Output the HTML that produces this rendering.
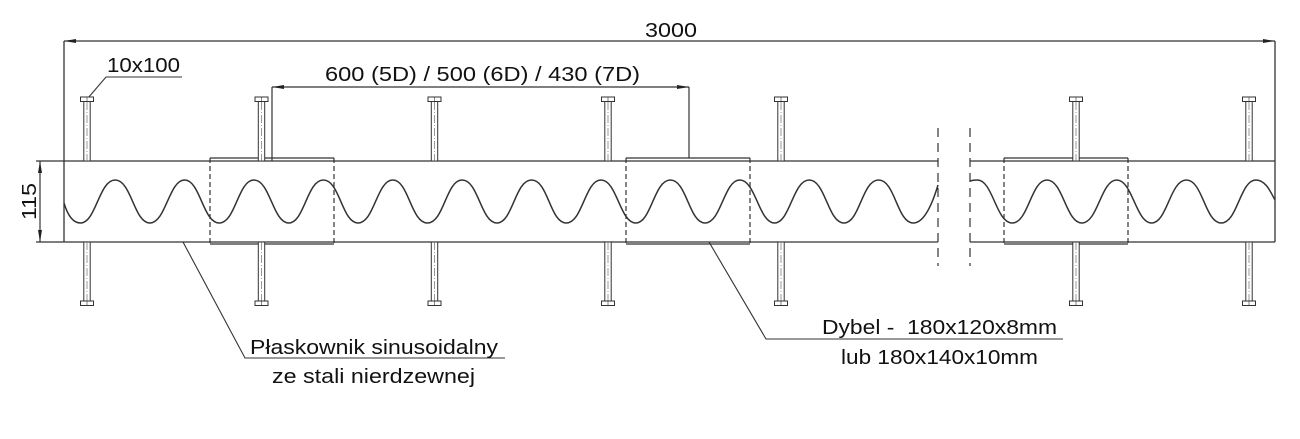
<!DOCTYPE html>
<html><head><meta charset="utf-8"><style>
html,body{margin:0;padding:0;background:#fff;}
svg{display:block;}
text{font-family:"Liberation Sans",sans-serif;fill:#111;}
</style></head><body>
<svg width="1300" height="439" viewBox="0 0 1300 439" xmlns="http://www.w3.org/2000/svg">
<defs>
<g id="bt">
  <rect x="-6.5" y="97" width="13" height="4.5" fill="#fff" stroke="#333" stroke-width="1"/>
  <line x1="0" y1="97" x2="0" y2="101.5" stroke="#333" stroke-width="0.6"/>
  <rect x="-3.2" y="101.5" width="6.4" height="59.5" fill="#fff" stroke="#333" stroke-width="1"/>
  <line x1="0" y1="102" x2="0" y2="161" stroke="#555" stroke-width="0.6" stroke-dasharray="8,2,1,2"/>
</g>
<g id="bb">
  <rect x="-3.2" y="242" width="6.4" height="59" fill="#fff" stroke="#333" stroke-width="1"/>
  <line x1="0" y1="242" x2="0" y2="301" stroke="#555" stroke-width="0.6" stroke-dasharray="8,2,1,2"/>
  <rect x="-6.5" y="301" width="13" height="4.5" fill="#fff" stroke="#333" stroke-width="1"/>
  <line x1="0" y1="301" x2="0" y2="305.5" stroke="#333" stroke-width="0.6"/>
</g>
</defs>
<g stroke="#333" stroke-width="1.3" fill="none">
<line x1="64" y1="161" x2="938" y2="161"/>
<line x1="64" y1="242" x2="938" y2="242"/>
<line x1="970" y1="161" x2="1275" y2="161"/>
<line x1="970" y1="242" x2="1275" y2="242"/>
<line x1="64" y1="41" x2="64" y2="242"/>
<line x1="1275" y1="41" x2="1275" y2="242"/>
<line x1="938" y1="128" x2="938" y2="266" stroke-dasharray="9,6" stroke-width="1.2"/>
<line x1="970" y1="128" x2="970" y2="266" stroke-dasharray="9,6" stroke-width="1.2"/>
<path stroke-width="1.5" d="M64,203 C67,213 72,223 80.5,223 C96,223 99,180 115.2,180 S134,223 149.9,223 S169,180 184.6,180 S203,223 219.3,223 S238,180 254,180 S273,223 288.7,223 S307,180 323.4,180 S342,223 358.1,223 S377,180 392.8,180 S411,223 427.5,223 S446,180 462.2,180 S481,223 496.9,223 S515,180 531.6,180 S550,223 566.3,223 S585,180 601,180 S620,223 635.7,223 S654,180 670.4,180 S689,223 705.1,223 S724,180 739.8,180 S759,223 774.5,223 S793,180 809.2,180 S828,223 843.9,223 S862,180 878.6,180 S897,223 913.3,223 C924,223 932,205 938,185"/>
<path stroke-width="1.5" d="M970,181 C973,180 975,180 977.3,180 C993,180 996,223 1012.2,223 S1031,180 1047,180 S1066,223 1081.9,223 S1101,180 1116.7,180 S1136,223 1151.6,223 S1170,180 1186.4,180 S1205,223 1221.3,223 S1240,180 1256,180 C1266,180 1271,193 1275,200"/>
<g stroke-width="1.2">
<line x1="210" y1="158" x2="334" y2="158"/><line x1="210" y1="244" x2="334" y2="244"/>
<line x1="210" y1="158" x2="210" y2="244" stroke-dasharray="5,3"/><line x1="334" y1="158" x2="334" y2="244" stroke-dasharray="5,3"/>
<line x1="626" y1="158" x2="750" y2="158"/><line x1="626" y1="244" x2="750" y2="244"/>
<line x1="626" y1="158" x2="626" y2="244" stroke-dasharray="5,3"/><line x1="750" y1="158" x2="750" y2="244" stroke-dasharray="5,3"/>
<line x1="1004" y1="158" x2="1128" y2="158"/><line x1="1004" y1="244" x2="1128" y2="244"/>
<line x1="1004" y1="158" x2="1004" y2="244" stroke-dasharray="5,3"/><line x1="1128" y1="158" x2="1128" y2="244" stroke-dasharray="5,3"/>
</g>
<line x1="64" y1="41" x2="1275" y2="41" stroke-width="1.2"/>
<line x1="272" y1="87" x2="689" y2="87" stroke-width="1.2"/>
<line x1="272" y1="87" x2="272" y2="161" stroke-width="1.2"/>
<line x1="689" y1="87" x2="689" y2="158" stroke-width="1.2"/>
<line x1="40" y1="161" x2="40" y2="242" stroke-width="1.2"/>
<line x1="36" y1="161" x2="64" y2="161" stroke-width="1.2"/>
<line x1="36" y1="242" x2="64" y2="242" stroke-width="1.2"/>
<polyline points="88,98 106,77 182,77" stroke-width="1.1"/>
<polyline points="183,242 245,358 505,358" stroke-width="1.1"/>
<polyline points="709,242 766,339 1063,339" stroke-width="1.1"/>
</g>
<g fill="#222">
<polygon points="64,41 76,39 76,43"/>
<polygon points="1275,41 1263,39 1263,43"/>
<polygon points="272,87 284,85 284,89"/>
<polygon points="689,87 677,85 677,89"/>
<polygon points="40,161 38,173 42,173"/>
<polygon points="40,242 38,230 42,230"/>
</g>
<g>
<use href="#bt" x="87"/><use href="#bb" x="87"/>
<use href="#bt" x="261.5"/><use href="#bb" x="261.5"/>
<use href="#bt" x="434.5"/><use href="#bb" x="434.5"/>
<use href="#bt" x="608"/><use href="#bb" x="608"/>
<use href="#bt" x="781"/><use href="#bb" x="781"/>
<use href="#bt" x="1076"/><use href="#bb" x="1076"/>
<use href="#bt" x="1249"/><use href="#bb" x="1249"/>
</g>
<g font-size="20">
<text x="645" y="37" textLength="52" lengthAdjust="spacingAndGlyphs">3000</text>
<text x="325" y="81" textLength="315" lengthAdjust="spacingAndGlyphs">600 (5D) / 500 (6D) / 430 (7D)</text>
<text x="107" y="72" textLength="73" lengthAdjust="spacingAndGlyphs">10x100</text>
<text x="0" y="0" textLength="37" lengthAdjust="spacingAndGlyphs" transform="translate(36 220) rotate(-90)">115</text>
<text x="250" y="354" textLength="248" lengthAdjust="spacingAndGlyphs">Płaskownik sinusoidalny</text>
<text x="272" y="383" textLength="203" lengthAdjust="spacingAndGlyphs">ze stali nierdzewnej</text>
<text x="822" y="334" textLength="235" lengthAdjust="spacingAndGlyphs" xml:space="preserve">Dybel -  180x120x8mm</text>
<text x="841" y="364" textLength="197" lengthAdjust="spacingAndGlyphs">lub 180x140x10mm</text>
</g>
</svg>
</body></html>
